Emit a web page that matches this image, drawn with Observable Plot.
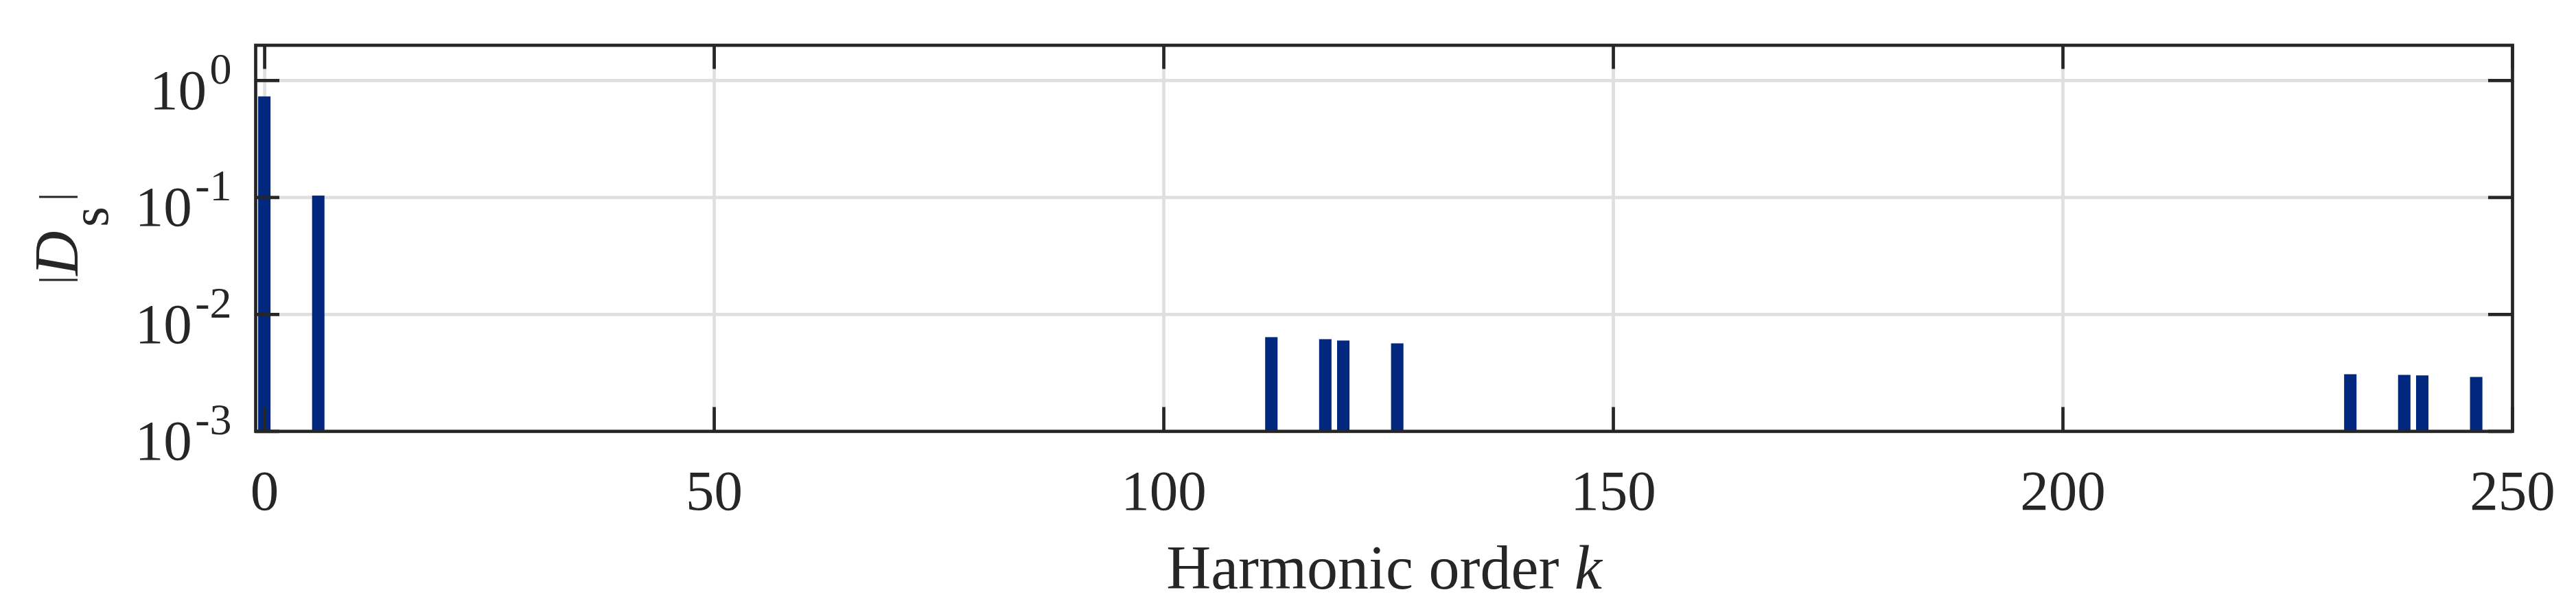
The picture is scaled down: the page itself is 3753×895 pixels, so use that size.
<!DOCTYPE html>
<html>
<head>
<meta charset="utf-8">
<script src="https://cdn.jsdelivr.net/npm/d3@7"></script>
<script src="https://cdn.jsdelivr.net/npm/@observablehq/plot@0.6"></script>
<style>
  html, body { margin: 0; padding: 0; background: #ffffff; }
</style>
</head>
<body>
<div id="chart"></div>
<script>
// ---- data ----
const harmonicOrder = [0, 6, 112, 118, 120, 126, 232, 238, 240, 246];
const magnitude = [0.726, 0.103, 0.00635, 0.0061, 0.00594, 0.00562, 0.00306, 0.00302, 0.00299, 0.0029];
const xTicks = [0, 50, 100, 150, 200, 250];
const yTicks = [1e-3, 1e-2, 1e-1, 1e0];
const yTickExponents = ["-3", "-2", "-1", "0"];
const xLabelText = "Harmonic order";
const xLabelVar = "k";
const yLabelText = "|Ds|";
const xDomain = [-1, 250];
const yDomain = [1e-3, 2];

const bars = harmonicOrder.map((k, i) => ({k, v: magnitude[i]}));

// ---- style ----
const W = 3753, H = 895;
const mL = 372, mR = 93, mT = 65.5, mB = 266.7;
const plotW = W - mL - mR, plotH = H - mT - mB;
const axisColor = "#262626", gridColor = "#dfdfdf", barColor = "#02277f";
const lw = 4.7, tickLen = 35, halfBar = 0.69;
const font = "'Liberation Serif', 'Times New Roman', serif";

const svg = Plot.plot({
  width: W,
  height: H,
  marginLeft: mL, marginRight: mR, marginTop: mT, marginBottom: mB,
  style: {background: "#ffffff", color: axisColor, fontFamily: font, overflow: "visible"},
  x: {domain: xDomain},
  y: {type: "log", domain: yDomain},
  marks: [
    Plot.ruleX(xTicks, {x: d => d, stroke: gridColor, strokeWidth: lw}),
    Plot.ruleY(yTicks, {y: d => d, stroke: gridColor, strokeWidth: lw}),
    Plot.rect(bars, {x1: d => d.k - halfBar, x2: d => d.k + halfBar, y1: yDomain[0], y2: "v", fill: barColor}),
    // inward ticks
    Plot.ruleX(xTicks, {x: d => d, stroke: axisColor, strokeWidth: lw, insetTop: plotH - tickLen}),
    Plot.ruleX(xTicks, {x: d => d, stroke: axisColor, strokeWidth: lw, insetBottom: plotH - tickLen}),
    Plot.ruleY(yTicks, {y: d => d, stroke: axisColor, strokeWidth: lw, insetRight: plotW - tickLen}),
    Plot.ruleY(yTicks, {y: d => d, stroke: axisColor, strokeWidth: lw, insetLeft: plotW - tickLen}),
    Plot.frame({stroke: axisColor, strokeWidth: lw}),
    Plot.axisX(xTicks, {anchor: "bottom", tickSize: 0, tickPadding: 55.5, fontSize: 83, label: null, fill: axisColor}),
    Plot.axisY(yTicks, {anchor: "left", tickSize: 0, tickPadding: 35, fontSize: 83, label: null, fill: axisColor,
      tickFormat: d => "10^" + yTickExponents[yTicks.indexOf(d)]}),
    Plot.text([xLabelText + " " + xLabelVar], {text: d => d, frameAnchor: "bottom", textAnchor: "middle", lineAnchor: "middle",
      dy: 200, fontSize: 90, fill: axisColor}),
    Plot.text([yLabelText], {text: d => d, frameAnchor: "left", textAnchor: "middle", lineAnchor: "middle",
      rotate: -90, dx: -288.3, fontSize: 90, fill: axisColor})
  ]
});

// typographic touches: superscripts, italics, subscript
d3.select(svg).selectAll("text").each(function () {
  const t = this.textContent;
  const s = d3.select(this);
  const m = /^10\^(.*)$/.exec(t);
  if (m) {
    s.text(null);
    s.append("tspan").attr("dy", 15).text("10");
    s.append("tspan").attr("dx", 4.5).attr("dy", -37).attr("font-size", 64).text(m[1]);
  } else if (t === xLabelText + " " + xLabelVar) {
    s.text(null);
    s.append("tspan").text(xLabelText + " ");
    s.append("tspan").attr("font-style", "italic").text(xLabelVar);
  } else if (t === yLabelText) {
    s.text(null);
    s.append("tspan").attr("font-size", 61).attr("dy", -13.2).text("|");
    s.append("tspan").attr("font-style", "italic").attr("dy", 13.2).text("D");
    s.append("tspan").attr("font-size", 76).attr("dx", 6).attr("dy", 44).text("s");
    s.append("tspan").attr("font-size", 61).attr("dx", 8).attr("dy", -57.2).text("|");
  }
});

document.getElementById("chart").appendChild(svg);
</script>
</body>
</html>
